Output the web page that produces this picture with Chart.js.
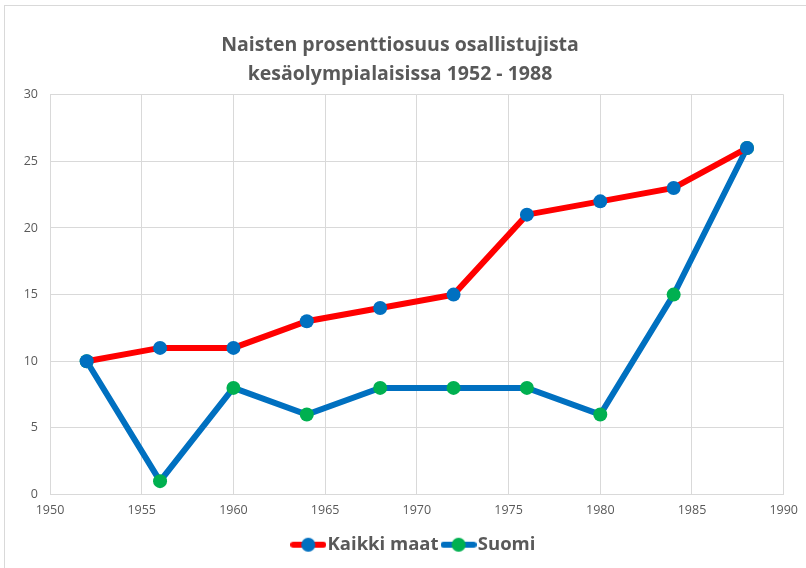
<!DOCTYPE html>
<html>
<head>
<meta charset="utf-8">
<script src="https://cdn.jsdelivr.net/npm/chart.js@4.4.0/dist/chart.umd.min.js"></script>
<style>
  html, body { margin: 0; padding: 0; background: #fff; }
  #wrap { width: 806px; height: 568px; }
</style>
</head>
<body>
<div id="wrap"><canvas id="chart"></canvas></div>
<script>
// data
let years = [1952, 1956, 1960, 1964, 1968, 1972, 1976, 1980, 1984, 1988];
let kaikkiMaat = [10, 11, 11, 13, 14, 15, 21, 22, 23, 26];
let suomi = [10, 1, 8, 6, 8, 8, 8, 6, 15, 26];
let seriesNames = ["Kaikki maat", "Suomi"];
let titleLines = ["Naisten prosenttiosuus osallistujista", "kesäolympialaisissa 1952 - 1988"];

const textColor = '#595959';
const gridColor = '#d9d9d9';

function toPoints(xs, ys) {
    let pts = [];
    for (let i = 0; i < xs.length; i++) {
        pts.push({ x: xs[i], y: ys[i] });
    }
    return pts;
}

// little legend icon: line with a dot on it
function legendIcon(lineColor, dotColor) {
    const c = document.createElement('canvas');
    c.width = 36;
    c.height = 16;
    const g = c.getContext('2d');
    g.strokeStyle = lineColor;
    g.lineWidth = 6;
    g.lineCap = 'round';
    g.beginPath();
    g.moveTo(3, 8);
    g.lineTo(33, 8);
    g.stroke();
    g.fillStyle = dotColor;
    g.beginPath();
    g.arc(18, 8, 7, 0, Math.PI * 2);
    g.fill();
    return c;
}

// light frame round the chart, like the spreadsheet chart box
const frame = {
    id: 'frame',
    beforeDraw(chart) {
        const ctx = chart.ctx;
        ctx.save();
        ctx.fillStyle = '#fff';
        ctx.fillRect(0, 0, chart.width, chart.height);
        ctx.strokeStyle = '#d9d9d9';
        ctx.lineWidth = 1;
        ctx.strokeRect(4.5, 5.5, chart.width + 20, chart.height + 20);
        ctx.restore();
    }
};

const ctx = document.getElementById('chart').getContext('2d');

const data = {
    datasets: [
        {
            label: seriesNames[0],
            data: toPoints(years, kaikkiMaat),
            showLine: true,
            borderColor: '#ff0000',
            borderWidth: 6,
            backgroundColor: '#0070c0',
            pointBackgroundColor: '#0070c0',
            pointBorderWidth: 0,
            pointRadius: 7,
            pointStyle: 'circle',
            legendIcon: legendIcon('#ff0000', '#0070c0')
        },
        {
            label: seriesNames[1],
            data: toPoints(years, suomi),
            showLine: true,
            borderColor: '#0070c0',
            borderWidth: 6,
            backgroundColor: '#00b050',
            pointBackgroundColor: '#00b050',
            pointBorderWidth: 0,
            pointRadius: 7,
            pointStyle: 'circle',
            legendIcon: legendIcon('#0070c0', '#00b050')
        }
    ]
};

const config = {
    type: 'scatter',
    data: data,
    options: {
        responsive: true,
        maintainAspectRatio: false,
        animation: false,
        layout: {
            padding: { left: 8, right: 14, top: 0, bottom: 4 }
        },
        scales: {
            x: {
                type: 'linear',
                min: 1950,
                max: 1990,
                ticks: {
                    stepSize: 5,
                    color: textColor,
                    font: { family: 'Open Sans', size: 12.5 },
                    padding: 8,
                    callback: (v) => String(v)
                },
                grid: { color: gridColor, drawTicks: false },
                border: { color: gridColor },
                afterFit(scale) { scale.height = 31; }
            },
            y: {
                min: 0,
                max: 30,
                ticks: { stepSize: 5, color: textColor, font: { family: 'Open Sans', size: 12.5 }, padding: 12 },
                grid: { color: gridColor, drawTicks: false },
                border: { display: false },
                afterFit(scale) { scale.width = 42; }
            }
        },
        plugins: {
            title: {
                display: true,
                text: titleLines,
                color: textColor,
                font: { family: 'Open Sans', size: 19.5, weight: 'bold', lineHeight: 1.48 },
                padding: { top: 31, bottom: 6 }
            },
            legend: {
                position: 'bottom',
                fullSize: false,
                labels: {
                    usePointStyle: true,
                    pointStyleWidth: 20,
                    color: textColor,
                    font: { family: 'Open Sans', size: 18.5, weight: 'bold' },
                    padding: 10,
                    generateLabels(chart) {
                        return chart.data.datasets.map((ds, i) => ({
                            text: ds.label,
                            pointStyle: ds.legendIcon,
                            fontColor: textColor,
                            datasetIndex: i,
                            hidden: false,
                            lineWidth: 0
                        }));
                    }
                }
            },
            tooltip: { enabled: false }
        }
    },
    plugins: [frame]
};

new Chart(ctx, config);
</script>
</body>
</html>
